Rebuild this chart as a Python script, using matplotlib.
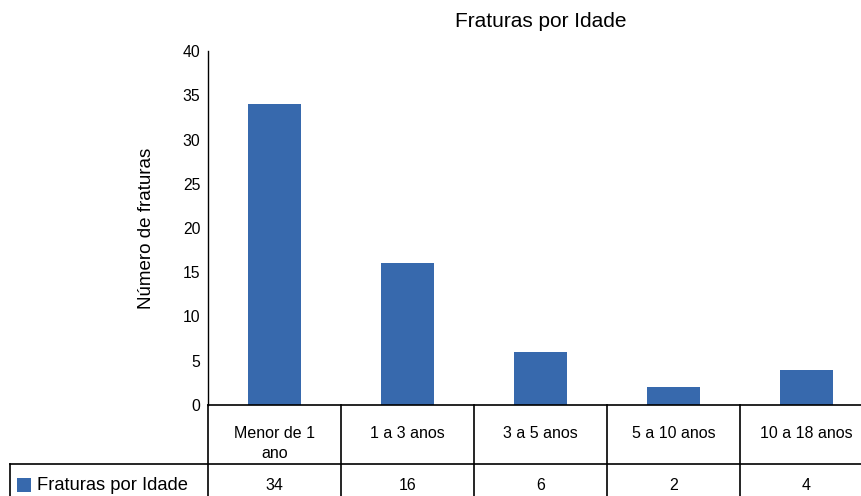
import matplotlib
matplotlib.use("Agg")
import matplotlib.pyplot as plt
from matplotlib.transforms import blended_transform_factory
from matplotlib.patches import Rectangle

# ── Data ──────────────────────────────────────────────────────────────────────
categories = ["Menor de 1\nano", "1 a 3 anos", "3 a 5 anos", "5 a 10 anos", "10 a 18 anos"]
values     = [34, 16, 6, 2, 4]
series     = "Fraturas por Idade"
yticks     = [0, 5, 10, 15, 20, 25, 30, 35, 40]

BAR = "#3769ad"
W, H = 861, 496

plt.rcParams["font.family"] = ["Liberation Sans", "DejaVu Sans"]

fig = plt.figure(figsize=(W / 100, H / 100), dpi=100)
fig.patch.set_facecolor("white")

# axes extends past the right edge (last column is cut off in the original)
ax_l, ax_b, ax_w, ax_h = 208, 405, 665, 354
ax = fig.add_axes([ax_l / W, 1 - ax_b / H, ax_w / W, ax_h / H])

x = list(range(len(values)))
ax.bar(x, values, width=0.4, color=BAR, zorder=2)

ax.set_xlim(-0.5, len(values) - 0.5)
ax.set_ylim(0, 40)
ax.set_yticks(yticks)
ax.tick_params(axis="y", length=0, labelsize=11.3, pad=5.5)
ax.set_xticks([])
for s in ("top", "right", "bottom"):
    ax.spines[s].set_visible(False)
ax.spines["left"].set_linewidth(1)
ax.set_ylabel("Número de fraturas", fontsize=13.5, labelpad=20)
ax.set_title("Fraturas por Idade", fontsize=15, pad=17)

# ── Data table below the axis ────────────────────────────────────────────────
tr = blended_transform_factory(ax.transData, fig.transFigure)
ff = fig.transFigure
y_axis = 1 - ax_b / H
y_mid = 1 - 464 / H
y_bot = 0.0
lw = 1.2

# horizontal lines
ax.plot([-0.5, len(values) - 0.5], [y_axis, y_axis], transform=tr,
        color="black", lw=lw, clip_on=False)
fig.add_artist(plt.Line2D([10 / W, 1], [y_mid, y_mid], transform=ff,
                          color="black", lw=lw))
# legend cell left border
fig.add_artist(plt.Line2D([10 / W, 10 / W], [y_bot, y_mid], transform=ff,
                          color="black", lw=lw))
# column boundaries
for i in range(len(values) + 1):
    xb = i - 0.5
    ax.plot([xb, xb], [y_bot, y_axis], transform=tr, color="black",
            lw=lw, clip_on=False)

y_cat = 1 - 426 / H
y_val = 1 - 485 / H
for i, (c, v) in enumerate(zip(categories, values)):
    ax.text(i, y_cat, c, transform=tr, ha="center", va="top",
            multialignment="center", fontsize=11.5, linespacing=1.4)
    ax.text(i, y_val, str(v), transform=tr, ha="center", va="center",
            fontsize=11.5)

# legend key in the table
fig.add_artist(Rectangle((17 / W, 1 - 492 / H), 14 / W, 14 / H,
                         transform=ff, facecolor=BAR, edgecolor="none"))
fig.text(37 / W, y_val, series, ha="left", va="center", fontsize=13.2)

fig.savefig("out.png", dpi=100)
